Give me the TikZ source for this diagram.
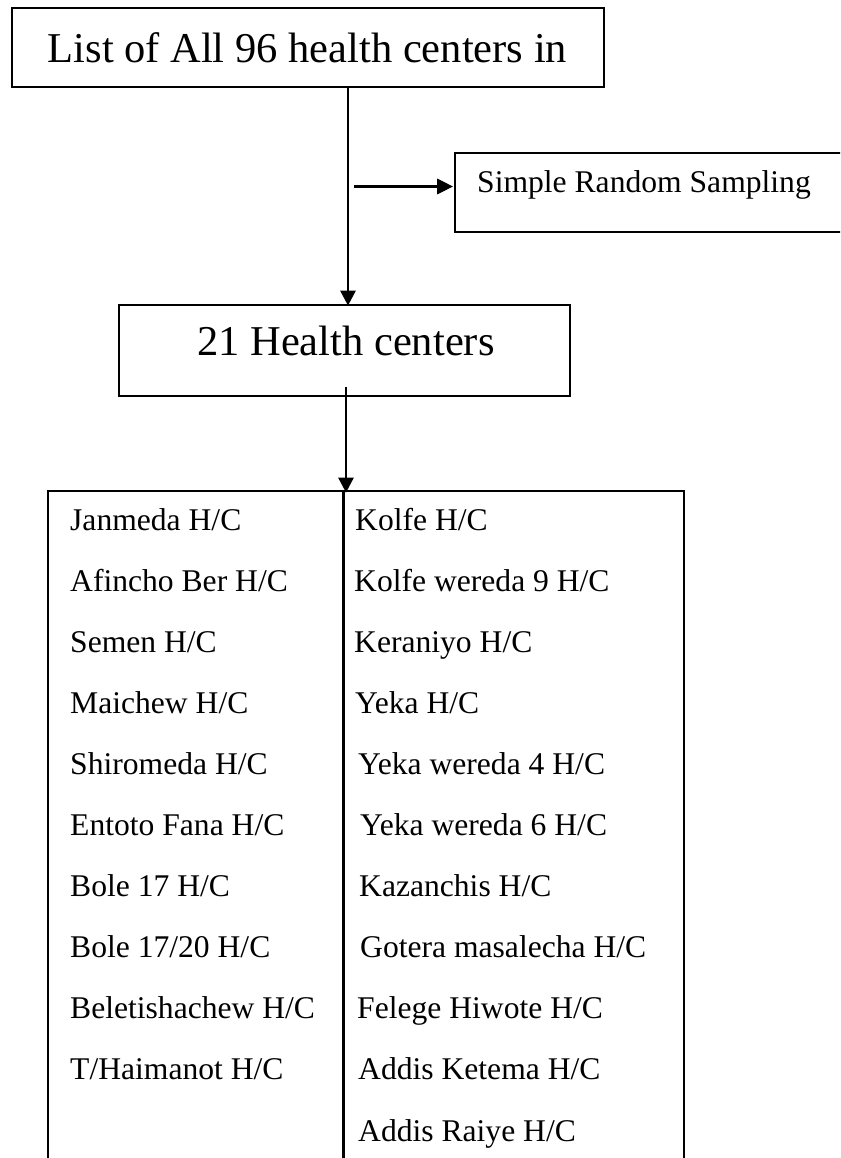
\documentclass[tikz,border=0pt]{standalone}
\usepackage{fontspec}
\setmainfont{Liberation Serif}
\usetikzlibrary{arrows.meta}
\begin{document}
\begin{tikzpicture}[x=1pt,y=-1pt,
  boxstyle/.style={draw=black,line width=1.7pt,rectangle,inner sep=0pt,fill=none},
  bigtext/.style={anchor=base west,inner sep=0pt,font=\fontsize{42.5}{50}\selectfont},
  smalltext/.style={anchor=base west,inner sep=0pt,font=\fontsize{31.6}{38}\selectfont},
  arrowline/.style={line width=2.7pt,-{Triangle[length=15pt,width=15pt]}},
  thickarrow/.style={line width=3.3pt,-{Triangle[length=16pt,width=15pt]}}]
\useasboundingbox (0,0) rectangle (840,1158);
\clip (0,0) rectangle (840,1158);
% boxes
\node[boxstyle,minimum width=592pt,minimum height=79pt] (top) at (308,47.5) {};
\node[boxstyle,minimum width=420pt,minimum height=79pt] (srs) at (665,192.5) {};
\node[boxstyle,minimum width=451pt,minimum height=91pt] (h21) at (344.5,350.5) {};
\node[boxstyle,minimum width=636pt,minimum height=720pt] (list) at (366,851) {};
% texts
\node[bigtext] (toptext) at (47.5,63) {List of All 96 health centers in};
\node[smalltext] (srstext) at (477,193) {Simple Random Sampling};
\node[bigtext] (h21text) at (197,355) {21 Health centers};
% connectors
\coordinate (ax) at (348,0);
\coordinate (hs) at (354,186.5);
\coordinate (bs) at (346,387);
\draw[arrowline] (top.south -| ax) -- ([yshift=-1.5pt]h21.north -| ax);
\draw[thickarrow] (hs) -- ([xshift=-1pt]hs -| srs.west);
\draw[arrowline] (bs) -- ([yshift=-2.5pt]bs |- list.north);
% divider
\coordinate (dv) at (343.5,0);
\draw[line width=2.7pt] (list.north -| dv) -- (list.south -| dv);
% left column
\node[smalltext] (l1) at (70,530) {Janmeda H/C};
\node[smalltext] (l2) at (70,591.1) {Afincho Ber H/C};
\node[smalltext] (l3) at (70,652.2) {Semen H/C};
\node[smalltext] (l4) at (70,713.3) {Maichew H/C};
\node[smalltext] (l5) at (70,774.4) {Shiromeda H/C};
\node[smalltext] (l6) at (70,835.5) {Entoto Fana H/C};
\node[smalltext] (l7) at (70,896.6) {Bole 17 H/C};
\node[smalltext] (l8) at (70,957.7) {Bole 17/20 H/C};
\node[smalltext] (l9) at (70,1018.8) {Beletishachew H/C};
\node[smalltext] (l10) at (70,1079.9) {T/Haimanot H/C};
% right column
\node[smalltext] (r1) at (355,530) {Kolfe H/C};
\node[smalltext] (r2) at (354,591.1) {Kolfe wereda 9 H/C};
\node[smalltext] (r3) at (354,652.2) {Keraniyo H/C};
\node[smalltext] (r4) at (355,713.3) {Yeka H/C};
\node[smalltext] (r5) at (358,774.4) {Yeka wereda 4 H/C};
\node[smalltext] (r6) at (360,835.5) {Yeka wereda 6 H/C};
\node[smalltext] (r7) at (359,896.6) {Kazanchis H/C};
\node[smalltext] (r8) at (360,957.7) {Gotera masalecha H/C};
\node[smalltext] (r9) at (357,1018.8) {Felege Hiwote H/C};
\node[smalltext] (r10) at (358,1079.9) {Addis Ketema H/C};
\node[smalltext] (r11) at (358,1141) {Addis Raiye H/C};
\end{tikzpicture}
\end{document}
